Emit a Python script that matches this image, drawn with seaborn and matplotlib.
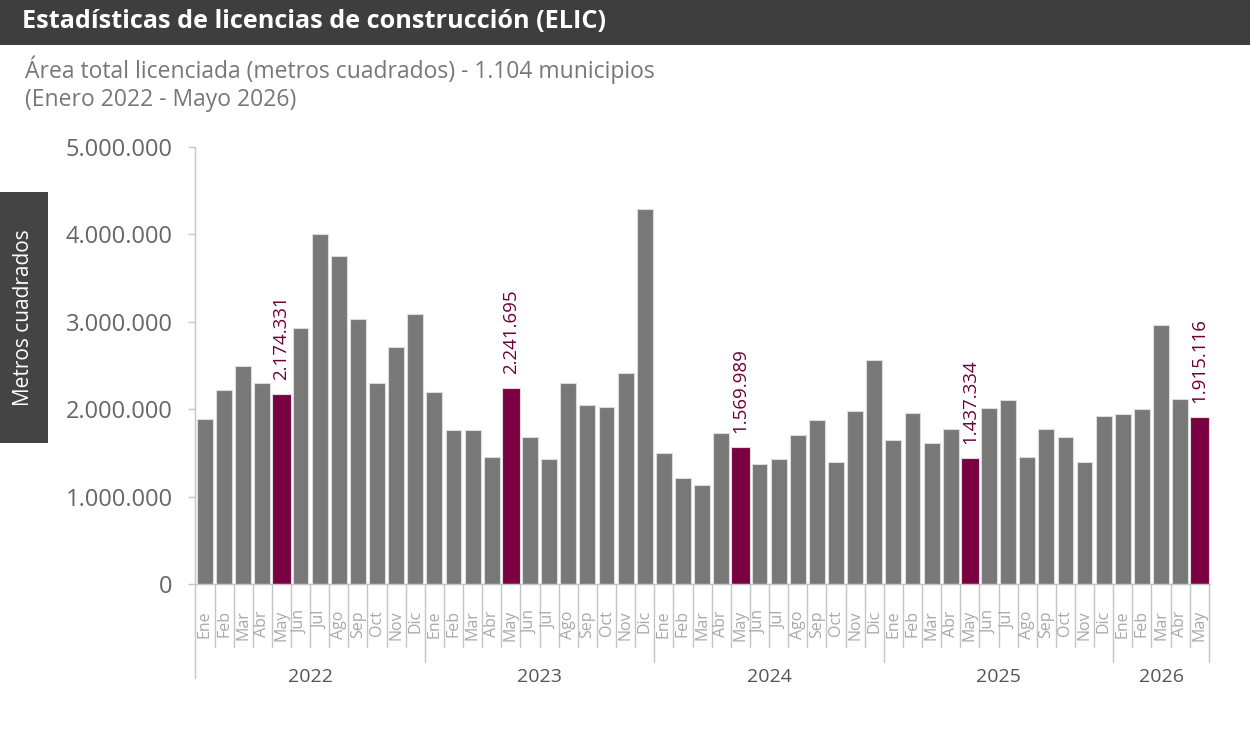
import matplotlib
matplotlib.use('Agg')
import matplotlib.pyplot as plt
import matplotlib.transforms as mtransforms
from matplotlib.patches import Rectangle
from matplotlib.ticker import FuncFormatter
import seaborn as sns
import pandas as pd

# ---------------- data ----------------
years = [2022, 2023, 2024, 2025, 2026]
months = ['Ene', 'Feb', 'Mar', 'Abr', 'May', 'Jun', 'Jul', 'Ago', 'Sep', 'Oct', 'Nov', 'Dic']
months_per_year = [12, 12, 12, 12, 5]

values_2022 = [1884000, 2222000, 2494000, 2302000, 2174331, 2925000, 4001000, 3749000, 3032000, 2302000, 2712000, 3086000]
values_2023 = [2197000, 1762000, 1762000, 1449000, 2241695, 1682000, 1430000, 2302000, 2044000, 2025000, 2418000, 4290000]
values_2024 = [1502000, 1209000, 1133000, 1731000, 1569989, 1373000, 1426000, 1708000, 1876000, 1400000, 1976000, 2563000]
values_2025 = [1651000, 1957000, 1610000, 1777000, 1437334, 2014000, 2101000, 1453000, 1777000, 1678000, 1396000, 1922000]
values_2026 = [1941000, 1998000, 2959000, 2117000, 1915116]
highlight_month = 'May'

yticks = [0, 1000000, 2000000, 3000000, 4000000, 5000000]

title = 'Estadísticas de licencias de construcción (ELIC)'
subtitle1 = 'Área total licenciada (metros cuadrados) - 1.104 municipios'
subtitle2 = '(Enero 2022 - Mayo 2026)'
ylabel = 'Metros cuadrados'

# ---------------- table ----------------
all_values = values_2022 + values_2023 + values_2024 + values_2025 + values_2026
rows = []
k = 0
for y, n in zip(years, months_per_year):
    for m in months[:n]:
        rows.append({'label': f'{m} {y}', 'mes': m, 'anio': y, 'value': all_values[k],
                     'grupo': 'destacado' if m == highlight_month else 'normal'})
        k += 1
df = pd.DataFrame(rows)
order = list(df['label'])
N = len(df)

GRAY = '#787878'
MAROON = '#7b0041'
LINE = '#c4c4c4'

def fmt(v):
    return f'{int(v):,}'.replace(',', '.')

# ---------------- figure ----------------
sns.set_theme(style='white')
plt.rcParams['font.family'] = ['Open Sans', 'DejaVu Sans']

fig = plt.figure(figsize=(12.5, 7.39), dpi=100)
W, H = 1250, 739
ax = fig.add_axes([195 / W, 1 - 584 / H, (1210 - 195) / W, (584 - 147) / H])

sns.barplot(data=df, x='label', y='value', hue='grupo', order=order,
            palette={'destacado': MAROON, 'normal': GRAY}, dodge=False,
            width=0.83, legend=False, edgecolor='#dcdcdc', linewidth=0.8,
            saturation=1, ax=ax)

# widen highlighted bars slightly
for p in ax.patches:
    fc = p.get_facecolor()
    if fc[0] > 0.4 and fc[1] < 0.2:
        c = p.get_x() + p.get_width() / 2
        p.set_width(0.97)
        p.set_x(c - 0.485)

ax.set_ylim(0, 5000000)
ax.set_xlim(-0.52, N - 1 + 0.56)
ax.set_yticks(yticks)
ax.yaxis.set_major_formatter(FuncFormatter(lambda v, _: fmt(v)))
ax.tick_params(axis='y', labelsize=17, labelcolor='#666666', length=5,
               width=1, color=LINE, left=True, pad=11)
ax.set_xticks([])
ax.set_xlabel('')
ax.set_ylabel('')
for s in ['top', 'right']:
    ax.spines[s].set_visible(False)
for s in ['left', 'bottom']:
    ax.spines[s].set_color(LINE)
    ax.spines[s].set_linewidth(1)

# value labels on highlighted bars
for i, r in df.iterrows():
    if r['grupo'] == 'destacado':
        ax.annotate(fmt(r['value']), xy=(i, r['value']), xytext=(0, 10),
                    textcoords='offset points', rotation=90, ha='center',
                    va='bottom', color='#6e0038', fontsize=13.5)

# category axis below
trans = mtransforms.blended_transform_factory(ax.transData, ax.transAxes)
year_bounds = []
acc = 0
for n in months_per_year[:-1]:
    acc += n
    year_bounds.append(acc)
for kk in range(1, N + 1):
    x = kk - 0.5
    long = (kk in year_bounds) or kk == N
    ax.plot([x, x], [0, -0.178 if long else -0.144], transform=trans,
            clip_on=False, color=LINE, lw=1)
ax.plot([0, 0], [0, -0.215], transform=ax.transAxes, clip_on=False, color=LINE, lw=1)

for i, r in df.iterrows():
    ax.text(i, -0.060, r['mes'], transform=trans, rotation=90, ha='center',
            va='top', color='#a8a8a8', fontsize=11.5)

start = 0
for y, n in zip(years, months_per_year):
    ax.text(start + (n - 1) / 2, -0.213, str(y), transform=trans, ha='center',
            va='center', color='#555555', fontsize=14)
    start += n

# header band and texts
fig.patches.append(Rectangle((0, 1 - 45 / H), 1, 45 / H, transform=fig.transFigure,
                             facecolor='#3e3e3e', edgecolor='none', zorder=0))
fig.text(22 / W, 1 - 22 / H, title, color='white', fontsize=18.2,
         fontweight='bold', ha='left', va='center')
fig.text(25 / W, 1 - 70 / H, subtitle1, color='#777777', fontsize=16.5,
         ha='left', va='center')
fig.text(25 / W, 1 - 100 / H, subtitle2, color='#777777', fontsize=16.5,
         ha='left', va='center')

# y-label box
fig.patches.append(Rectangle((0, 1 - 443 / H), 48 / W, (443 - 192) / H,
                             transform=fig.transFigure, facecolor='#444444',
                             edgecolor='none', zorder=0))
fig.text(24 / W, 1 - 318 / H, ylabel, color='white', fontsize=15,
         rotation=90, ha='center', va='center')

fig.savefig('out.png', dpi=100, facecolor='white')
